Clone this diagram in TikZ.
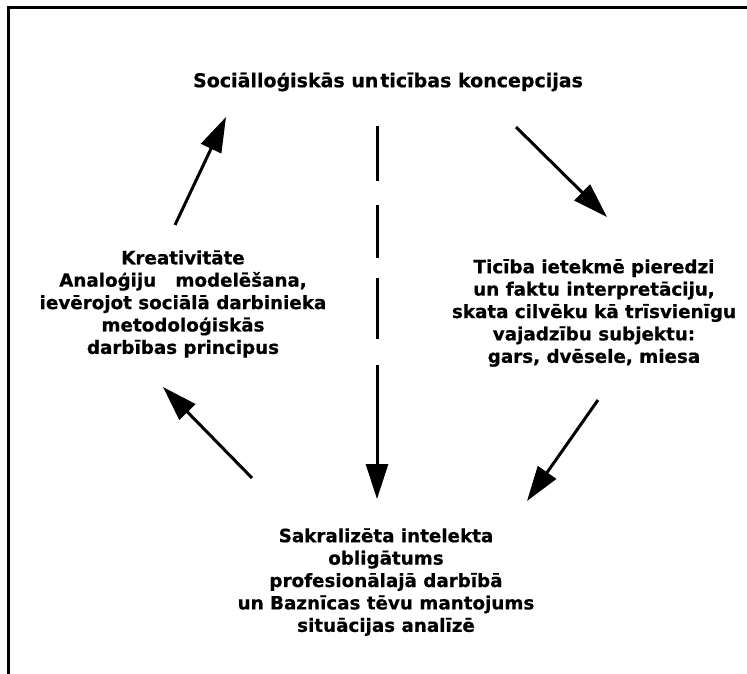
\documentclass[tikz,border=0pt]{standalone}
\usepackage{fontspec}
\setmainfont{DejaVu Sans}[BoldFeatures={FakeBold=0.6}]
\usetikzlibrary{arrows.meta}
\begin{document}
\begin{tikzpicture}[x=1pt,y=-1pt,
  txt/.style={align=center,inner sep=0pt,font=\fontsize{18.3}{22.4}\selectfont\bfseries},
  arr/.style={line width=3pt,-{Triangle[length=35pt,width=22pt]}}]
\useasboundingbox (0,0) rectangle (747,674);
\draw[line width=3pt] (747,8) -- (8,8) -- (8,674);
\node[txt,font=\fontsize{19}{22}\selectfont\bfseries] (top) at (388,82) {Sociālloģiskās un\hspace{0.1em}ticības koncepcijas};
\node[txt] (left) at (183,304) {Kreativitāte\\Analoģiju\ \ \ modelēšana,\\ievērojot sociālā darbinieka\\metodoloģiskās\\darbības principus};
\node[txt] (right) at (594,313) {Ticība ietekmē pieredzi\\un faktu interpretāciju,\\skata cilvēku kā trīsvienīgu\\vajadzību subjektu:\\gars, dvēsele, miesa};
\node[txt] (bottom) at (386,582) {Sakralizēta intelekta\\obligātums\\profesionālajā darbībā\\un Baznīcas tēvu mantojums\\situācijas analīzē};
\coordinate (c1a) at (175,225); \coordinate (c1b) at (226,117);
\coordinate (c2a) at (516,127); \coordinate (c2b) at (607,217);
\coordinate (c3a) at (598,400); \coordinate (c3b) at (527,501);
\coordinate (c4a) at (252,478); \coordinate (c4b) at (163,387);
\coordinate (c5a) at (377,126); \coordinate (c5b) at (377,499);
\draw[arr] (c1a) -- (c1b);
\draw[arr] (c2a) -- (c2b);
\draw[arr] (c3a) -- (c3b);
\draw[arr] (c4a) -- (c4b);
\draw[arr,dash pattern=on 55pt off 24pt on 53pt off 20pt on 61pt off 26pt on 300pt] (c5a) -- (c5b);
\end{tikzpicture}
\end{document}
